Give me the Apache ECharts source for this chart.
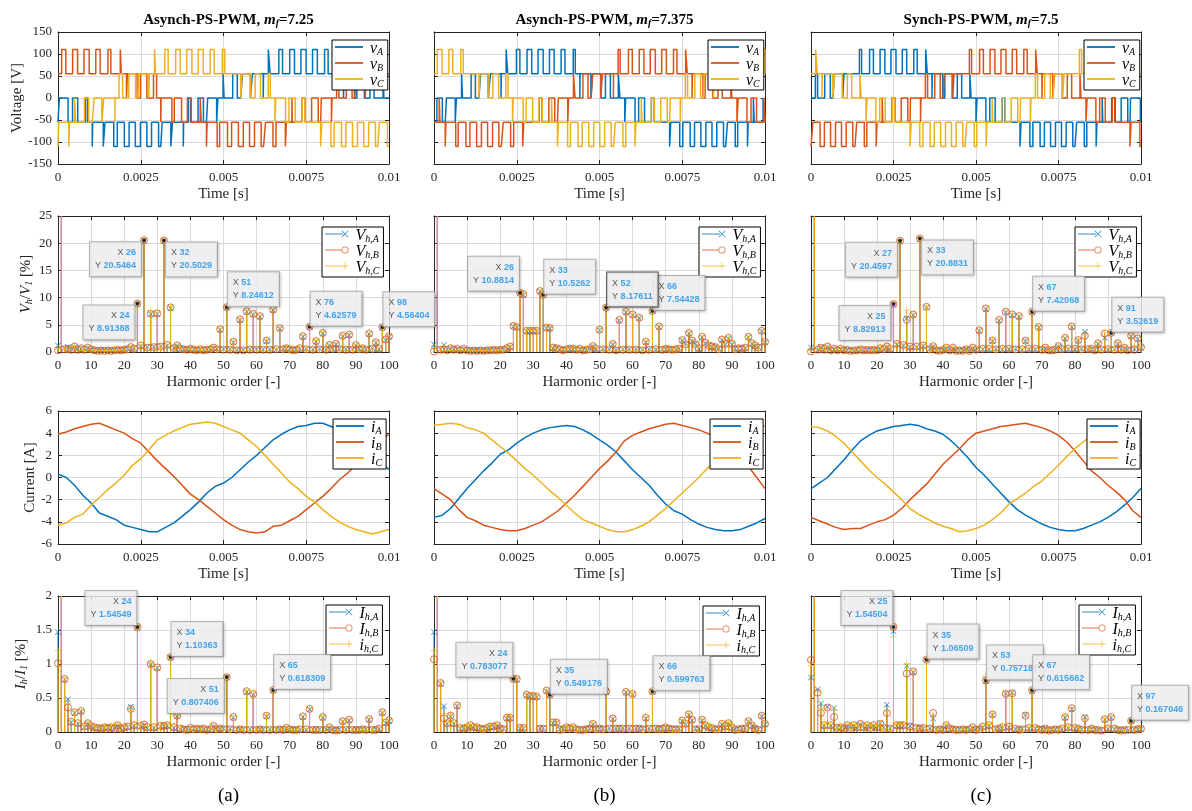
<!DOCTYPE html>
<html><head><meta charset="utf-8">
<script src="https://cdn.jsdelivr.net/npm/echarts@6/dist/echarts.min.js"></script>
<style>html,body{margin:0;padding:0;background:#fff}#c{width:1192px;height:811px}</style>
</head><body><div id="c"></div>
<script>
// ---------------- DATA ----------------
const columnTitles = ['Asynch-PS-PWM, ', 'Asynch-PS-PWM, ', 'Synch-PS-PWM, '];
const mfValues = ['7.25', '7.375', '7.5'];
const panelLetters = ['(a)', '(b)', '(c)'];
const timeTicks = [0, 0.0025, 0.005, 0.0075, 0.01];
const harmTicks = [0, 10, 20, 30, 40, 50, 60, 70, 80, 90, 100];

// PWM carrier interval (ms) per panel and voltage step (V)
const pwmInterval = [0.345, 0.339, 0.3333];
const levelStep = 55;
// local average of each phase voltage over every carrier interval (V), read from pulse duty
const vAvgA_a = [-13,-30,-45,-59,-68,-76,-80,-79,-76,-68,-58,-44,-29,-12,5,22,38,52,64,73,78,80,78,72,63,51,36,20,4];
const vAvgB_a = [75,79,80,76,69,60,47,31,15,-3,-20,-36,-50,-62,-72,-77,-80,-78,-74,-65,-53,-39,-23,-6,11,28,44,57,68];
const vAvgC_a = [-61,-49,-35,-18,-1,17,33,48,60,71,77,80,79,74,67,55,42,26,10,-8,-25,-41,-55,-66,-74,-78,-80,-77,-71];
const vAvgA_b = [-28,-12,5,21,37,52,63,72,78,80,78,74,65,53,40,24,8,-9,-26,-41,-55,-66,-74,-79,-80,-77,-72,-62,-51,-36];
const vAvgB_b = [-51,-62,-72,-77,-80,-79,-74,-66,-55,-42,-26,-9,8,25,40,54,65,74,78,80,78,72,63,52,37,21,5,-12,-28,-44];
const vAvgC_b = [79,74,67,56,43,28,11,-6,-23,-38,-52,-65,-73,-78,-80,-78,-73,-65,-52,-39,-23,-6,11,28,43,56,67,74,79,80];
const vAvgA_c = [11,28,42,55,66,74,79,80,77,72,63,52,37,22,6,-11,-28,-42,-55,-66,-74,-79,-80,-77,-72,-63,-52,-37,-22,-6];
const vAvgB_c = [-74,-79,-80,-77,-72,-63,-52,-38,-22,-5,11,27,43,55,66,74,79,80,77,72,63,52,38,22,5,-11,-27,-43,-55,-66];
const vAvgC_c = [63,52,38,22,6,-11,-28,-42,-55,-67,-74,-78,-80,-77,-72,-63,-52,-38,-22,-6,11,28,42,55,66,74,79,80,77,72];

// voltage harmonics V_h/V_1 [%], h = 0..100
const VA_a = [1.2,100,0.7,0.9,0.5,0.9,0.5,0.6,0.5,0.7,0.4,0.4,0.3,0.3,0.3,0.3,0.3,0.4,0.3,0.4,0.5,0.6,0.8,0.7,8.8,1.0,20.4,0.9,7.0,1.0,7.0,1.1,20.4,1.2,8.1,0.8,1.1,0.5,0.6,0.5,0.5,0.5,0.4,0.4,0.4,0.5,0.4,0.7,0.6,4.1,0.5,8.2,0.5,1.8,0.4,5.9,0.4,7.4,0.5,6.9,0.5,6.5,0.5,2.0,0.5,7.7,0.4,4.3,0.6,0.6,0.6,0.4,0.5,0.6,2.8,0.6,4.6,0.5,1.9,0.6,3.4,0.5,1.2,0.7,1.4,0.6,2.9,0.5,3.1,0.5,1.2,0.6,0.6,0.5,3.3,0.7,1.7,0.5,4.5,2.2,2.8];
const VB_a = [0.3,100,0.5,0.6,0.4,1.0,0.4,0.7,0.4,0.8,0.5,0.3,0.2,0.3,0.2,0.3,0.2,0.3,0.4,0.3,0.4,0.5,0.9,0.6,8.91388,1.2,20.5464,0.8,7.0,0.9,7.1,1.0,20.5029,1.3,8.2,0.7,1.2,0.6,0.5,0.4,0.6,0.4,0.3,0.5,0.3,0.4,0.5,0.8,0.5,4.2,0.4,8.24612,0.4,1.9,0.3,6.0,0.3,7.5,0.4,7.0,0.4,6.6,0.4,2.1,0.4,7.8,0.5,4.4,0.5,0.7,0.5,0.3,0.4,0.7,2.9,0.5,4.62579,0.4,2.0,0.5,3.5,0.4,1.3,0.6,1.5,0.5,3.0,0.4,3.2,0.4,1.3,0.5,0.7,0.4,3.4,0.6,1.8,0.6,4.56404,2.3,2.9];
const VC_a = [0.6,100,0.6,0.5,0.5,1.1,0.3,0.8,0.3,0.9,0.4,0.2,0.3,0.2,0.3,0.2,0.3,0.3,0.5,0.3,0.5,0.4,1.0,0.5,9.0,1.3,20.6,0.7,7.6,0.8,7.3,0.9,20.6,1.4,8.3,0.6,1.3,0.7,0.4,0.5,0.7,0.3,0.4,0.6,0.3,0.3,0.6,0.9,0.4,4.3,0.3,8.3,0.3,2.0,0.4,6.1,0.3,7.6,0.3,7.1,0.3,6.7,0.3,2.2,0.3,7.9,0.6,4.5,0.4,0.8,0.4,0.3,0.3,0.8,3.0,0.4,4.7,0.3,2.1,0.4,3.6,0.3,1.4,0.5,1.6,0.4,3.1,0.3,3.3,0.3,1.4,0.4,0.8,0.3,3.5,0.5,1.9,0.7,4.6,2.4,3.0];
const VA_b = [1.4,100,0.5,1.3,0.4,0.6,0.5,0.5,0.4,0.5,0.4,0.3,0.2,0.3,0.2,0.3,0.2,0.4,0.3,0.4,0.3,0.5,0.6,0.9,4.7,4.5,10.8,10.5,3.8,3.8,3.8,3.8,11.1,10.4,4.4,4.3,0.7,0.8,0.4,0.4,0.4,0.5,0.5,0.5,0.5,0.4,0.3,0.6,1.0,0.5,4.0,0.6,8.1,0.5,1.4,0.4,5.8,0.5,7.3,0.5,6.8,0.5,6.2,0.4,1.8,0.5,7.5,0.4,4.6,0.5,0.5,0.6,0.5,0.4,0.7,2.1,1.5,3.4,2.0,1.5,0.6,2.7,1.6,1.3,0.9,1.0,0.6,2.2,1.4,2.5,1.4,0.6,0.6,0.7,0.7,2.7,1.5,1.1,0.9,3.8,1.8];
const VB_b = [0.1,100,0.4,0.5,0.3,0.7,0.4,0.6,0.3,0.6,0.3,0.2,0.3,0.2,0.3,0.2,0.3,0.3,0.4,0.3,0.4,0.4,0.7,1.0,4.8,4.6,10.8814,10.6,3.9,3.9,3.9,3.9,11.2,10.5262,4.5,4.4,0.8,0.7,0.5,0.3,0.5,0.6,0.6,0.4,0.6,0.3,0.4,0.5,1.1,0.6,4.1,0.5,8.17611,0.4,1.5,0.3,5.9,0.4,7.4,0.4,6.9,0.4,6.3,0.3,1.9,0.4,7.54428,0.5,4.7,0.4,0.6,0.5,0.4,0.5,0.6,2.2,1.4,3.5,2.1,1.4,0.7,2.8,1.7,1.2,1.0,0.9,0.5,2.3,1.5,2.6,1.5,0.5,0.7,0.6,0.8,2.8,1.6,1.2,0.8,3.9,1.9];
const VC_b = [0.8,100,0.3,0.8,0.3,0.8,0.3,0.7,0.2,0.7,0.2,0.3,0.3,0.2,0.3,0.3,0.3,0.2,0.5,0.2,0.5,0.3,0.8,1.1,4.9,4.7,11.0,10.7,4.0,4.0,4.0,4.0,11.3,10.6,4.6,4.5,0.9,0.6,0.6,0.2,0.6,0.7,0.7,0.3,0.7,0.2,0.5,0.4,1.2,0.7,4.2,0.4,8.2,0.3,1.6,0.2,6.0,0.3,7.5,0.3,7.0,0.3,6.4,0.2,2.0,0.3,7.6,0.6,4.8,0.3,0.7,0.4,0.3,0.6,0.5,2.3,1.3,3.6,2.2,1.3,0.8,2.9,1.8,1.1,1.1,0.8,0.4,2.4,1.6,2.7,1.6,0.4,0.8,0.5,0.9,2.9,1.7,1.3,0.7,4.0,2.0];
const VA_c = [0.8,100,0.3,0.9,0.3,0.9,0.4,0.5,0.4,0.5,0.4,0.3,0.3,0.2,0.4,0.4,0.2,0.3,0.4,0.3,0.4,0.6,0.4,0.9,0.5,8.7,1.4,20.3,1.2,6.2,0.9,6.8,0.9,20.7,1.1,8.2,0.6,1.0,0.4,0.3,0.3,0.7,0.4,0.7,0.3,0.2,0.3,0.6,0.3,0.7,0.3,3.9,0.5,7.9,0.5,2.0,0.6,5.8,0.5,7.3,0.5,6.8,0.6,6.5,0.4,2.0,0.5,7.3,0.5,4.5,0.5,0.7,0.4,0.2,0.5,1.0,0.4,2.5,0.5,4.6,0.5,2.1,0.6,3.7,0.4,0.5,0.4,1.5,0.5,2.6,0.4,3.4,0.5,1.5,0.5,0.7,0.4,2.9,0.5,2.4,0.8];
const VB_c = [0.1,100,0.4,0.8,0.4,1.0,0.3,0.6,0.3,0.6,0.3,0.4,0.2,0.3,0.3,0.5,0.3,0.4,0.3,0.4,0.3,0.7,0.5,1.0,0.6,8.82913,1.5,20.4597,1.3,5.9,1.0,6.9,1.0,20.8831,1.2,8.3,0.5,1.1,0.3,0.2,0.4,0.8,0.3,0.8,0.2,0.3,0.2,0.5,0.2,0.8,0.4,4.0,0.6,8.0,0.6,2.1,0.5,5.9,0.6,7.4,0.6,6.9,0.5,6.6,0.5,2.1,0.6,7.42068,0.6,4.6,0.4,0.8,0.3,0.3,0.4,1.1,0.5,2.6,0.6,4.7,0.6,2.2,0.5,3.0,0.5,0.6,0.3,1.6,0.4,3.4,0.5,3.52619,0.4,1.6,0.4,0.8,0.3,3.0,0.4,2.5,0.9];
const VC_c = [0.3,100,0.5,0.7,0.5,1.1,0.2,0.7,0.2,0.7,0.2,0.5,0.1,0.4,0.2,0.6,0.4,0.5,0.2,0.5,0.2,0.8,0.6,1.1,0.7,8.9,1.6,20.5,1.4,7.7,1.1,7.0,1.1,20.9,1.3,8.4,0.4,1.2,0.2,0.1,0.5,0.9,0.2,0.9,0.1,0.4,0.1,0.4,0.1,0.9,0.5,4.1,0.7,8.1,0.7,2.2,0.4,6.0,0.7,7.5,0.7,7.0,0.4,6.7,0.6,2.2,0.7,7.5,0.7,4.7,0.3,0.9,0.2,0.4,0.3,1.2,0.6,2.7,0.7,4.8,0.7,2.3,0.4,3.1,0.6,0.7,0.2,1.7,0.3,3.5,0.6,3.6,0.3,1.7,0.3,0.9,0.2,3.1,1.2,2.6,1.0];

// phase currents [A], one sample every 0.25 ms from 0 to 10 ms
const iA_a = [0.3,0.0,-0.7,-1.6,-2.3,-3.2,-3.5,-3.8,-4.3,-4.5,-4.7,-4.9,-4.9,-4.5,-4.1,-3.5,-2.9,-2.2,-1.4,-0.8,-0.5,0.0,0.7,1.4,2.0,2.7,3.4,3.9,4.3,4.6,4.7,4.9,4.9,4.6,4.3,3.9,3.5,2.9,2.2,1.4,0.7];
const iB_a = [3.9,4.1,4.4,4.6,4.8,4.9,4.6,4.3,4.0,3.5,3.1,2.3,1.5,0.8,0.1,-0.7,-1.5,-2.0,-2.6,-3.2,-3.8,-4.3,-4.7,-4.9,-5.0,-4.9,-4.4,-4.3,-3.9,-3.5,-2.9,-2.3,-1.7,-1.0,-0.2,0.4,1.1,1.9,2.6,3.3,3.9];
const iC_a = [-4.3,-4.1,-3.6,-3.3,-2.5,-1.8,-1.1,-0.5,0.2,1.1,1.7,2.5,3.4,3.8,4.2,4.5,4.8,4.9,5.0,4.9,4.6,4.3,4.0,3.4,2.8,2.0,1.2,0.4,-0.4,-1.0,-1.7,-2.2,-2.9,-3.5,-4.0,-4.4,-4.7,-4.9,-5.1,-4.9,-4.7];
const iA_b = [-3.6,-3.4,-2.8,-1.9,-1.0,-0.2,0.6,1.3,2.1,2.5,3.1,3.6,4.0,4.3,4.5,4.6,4.7,4.6,4.3,3.9,3.4,2.9,2.3,1.5,0.7,0.0,-0.7,-1.6,-2.4,-3.0,-3.3,-3.8,-4.2,-4.5,-4.7,-4.8,-4.8,-4.7,-4.4,-4.1,-3.7];
const iB_b = [-1.0,-1.5,-2.0,-2.9,-3.6,-3.9,-4.3,-4.5,-4.7,-4.8,-4.8,-4.6,-4.3,-4.0,-3.5,-3.0,-2.3,-1.6,-0.8,0.0,0.8,1.5,2.3,3.3,3.8,4.1,4.4,4.6,4.8,4.9,4.7,4.5,4.3,4.0,3.6,3.1,2.5,1.8,1.0,0.0,-1.0];
const iC_b = [4.7,4.8,4.9,4.8,4.5,4.3,4.0,3.4,2.8,2.2,1.5,0.8,0.2,-0.5,-1.2,-1.8,-2.5,-3.2,-3.8,-4.1,-4.4,-4.7,-4.9,-4.9,-4.7,-4.4,-4.0,-3.4,-2.8,-2.1,-1.4,-0.7,0.0,0.8,1.5,2.2,2.8,3.4,3.8,4.3,4.7];
const iA_c = [-1.0,-0.5,0.0,0.8,1.6,2.5,3.3,3.8,4.2,4.4,4.6,4.7,4.8,4.7,4.4,4.2,3.9,3.3,2.6,1.8,0.9,0.2,-0.6,-1.4,-2.2,-2.9,-3.4,-3.8,-4.2,-4.5,-4.7,-4.8,-4.8,-4.6,-4.3,-4.0,-3.6,-3.1,-2.5,-1.8,-1.0];
const iB_c = [-3.6,-3.9,-4.2,-4.5,-4.7,-4.6,-4.6,-4.3,-4.0,-3.8,-3.4,-2.8,-2.0,-1.3,-0.6,0.3,1.2,1.9,2.6,3.4,4.0,4.2,4.4,4.6,4.7,4.8,4.9,4.7,4.5,4.2,3.8,3.2,2.4,1.5,0.6,0.0,-0.7,-1.3,-2.0,-3.0,-3.6];
const iC_c = [4.6,4.5,4.2,3.7,3.1,2.3,1.5,0.7,0.0,-0.6,-1.3,-2.0,-2.8,-3.3,-3.7,-4.1,-4.4,-4.6,-4.9,-4.8,-4.6,-4.3,-3.8,-3.2,-2.4,-1.9,-1.4,-0.8,-0.3,0.4,1.1,1.9,2.6,3.2,3.8,4.2,4.5,4.7,4.9,4.8,4.6];
const currentStep = 0.00025;

// current harmonics I_h/I_1 [%], h = 0..100
const IA_a = [1.47,100,0.77,0.48,0.14,0.28,0.12,0.3,0.07,0.12,0.08,0.06,0.05,0.06,0.06,0.07,0.06,0.06,0.09,0.06,0.06,0.07,0.37,0.09,1.53,0.08,0.1,0.06,0.99,0.06,0.94,0.08,0.08,0.09,1.09,0.06,0.23,0.04,0.05,0.04,0.05,0.05,0.04,0.05,0.04,0.04,0.03,0.08,0.05,0.04,0.05,0.8,0.05,0.21,0.04,0.03,0.04,0.59,0.04,0.55,0.04,0.03,0.04,0.23,0.04,0.61,0.04,0.03,0.04,0.05,0.03,0.04,0.04,0.03,0.22,0.03,0.33,0.04,0.04,0.04,0.21,0.04,0.06,0.04,0.03,0.04,0.15,0.04,0.17,0.04,0.04,0.04,0.03,0.04,0.18,0.04,0.04,0.04,0.28,0.13,0.16];
const IB_a = [1.01,100,0.78,0.36,0.15,0.29,0.13,0.31,0.08,0.13,0.09,0.07,0.06,0.05,0.07,0.06,0.07,0.05,0.1,0.05,0.07,0.08,0.34,0.1,1.54549,0.09,0.11,0.07,1.0,0.07,0.95,0.09,0.09,0.1,1.10363,0.07,0.24,0.05,0.04,0.03,0.06,0.04,0.05,0.04,0.05,0.03,0.04,0.09,0.04,0.05,0.04,0.807406,0.04,0.22,0.03,0.04,0.03,0.6,0.03,0.56,0.03,0.04,0.03,0.24,0.03,0.618309,0.03,0.04,0.03,0.06,0.04,0.03,0.03,0.04,0.23,0.04,0.34,0.03,0.03,0.03,0.22,0.03,0.07,0.03,0.02,0.03,0.16,0.03,0.18,0.03,0.03,0.03,0.04,0.03,0.19,0.03,0.03,0.05,0.29,0.14,0.17];
const IC_a = [1.2,100,0.79,0.42,0.16,0.3,0.14,0.32,0.09,0.14,0.1,0.08,0.07,0.04,0.08,0.05,0.08,0.04,0.11,0.04,0.08,0.09,0.33,0.11,1.55,0.1,0.12,0.08,1.03,0.08,0.96,0.1,0.1,0.11,1.11,0.08,0.25,0.06,0.03,0.02,0.07,0.03,0.06,0.03,0.06,0.02,0.05,0.1,0.03,0.06,0.03,0.81,0.03,0.23,0.02,0.05,0.02,0.61,0.02,0.57,0.02,0.05,0.02,0.25,0.02,0.62,0.02,0.05,0.02,0.07,0.05,0.02,0.02,0.05,0.24,0.05,0.35,0.02,0.02,0.02,0.23,0.02,0.08,0.02,0.01,0.02,0.17,0.02,0.19,0.02,0.02,0.02,0.05,0.02,0.2,0.02,0.02,0.06,0.3,0.15,0.18];
const IA_b = [1.47,100,0.71,0.38,0.12,0.23,0.12,0.38,0.05,0.06,0.06,0.09,0.06,0.06,0.06,0.05,0.05,0.07,0.07,0.09,0.06,0.05,0.2,0.2,0.77,0.77,0.05,0.05,0.54,0.52,0.52,0.51,0.06,0.06,0.6,0.54,0.13,0.13,0.04,0.05,0.06,0.06,0.06,0.05,0.04,0.04,0.05,0.06,0.11,0.05,0.06,0.05,0.59,0.06,0.19,0.06,0.06,0.06,0.58,0.06,0.55,0.06,0.06,0.05,0.2,0.06,0.59,0.06,0.05,0.06,0.06,0.06,0.05,0.05,0.05,0.16,0.11,0.25,0.17,0.05,0.05,0.17,0.09,0.06,0.05,0.05,0.05,0.11,0.07,0.12,0.06,0.04,0.05,0.06,0.06,0.15,0.09,0.06,0.04,0.23,0.11];
const IB_b = [1.07,100,0.72,0.2,0.13,0.24,0.13,0.39,0.06,0.05,0.07,0.1,0.07,0.07,0.05,0.04,0.06,0.08,0.08,0.1,0.05,0.04,0.21,0.21,0.783077,0.78,0.06,0.06,0.55,0.53,0.53,0.52,0.05,0.05,0.61,0.549176,0.14,0.14,0.03,0.04,0.07,0.05,0.07,0.04,0.03,0.03,0.04,0.05,0.12,0.04,0.05,0.04,0.6,0.05,0.2,0.05,0.05,0.05,0.59,0.05,0.56,0.05,0.05,0.04,0.21,0.05,0.599763,0.05,0.04,0.05,0.07,0.05,0.04,0.04,0.04,0.17,0.12,0.26,0.18,0.04,0.04,0.18,0.1,0.07,0.06,0.04,0.04,0.12,0.08,0.13,0.07,0.03,0.04,0.05,0.05,0.16,0.1,0.05,0.03,0.24,0.12];
const IC_b = [1.2,100,0.73,0.27,0.14,0.25,0.14,0.4,0.07,0.04,0.08,0.11,0.08,0.08,0.04,0.03,0.07,0.09,0.09,0.11,0.04,0.03,0.22,0.22,0.79,0.79,0.07,0.07,0.56,0.54,0.54,0.53,0.04,0.04,0.62,0.55,0.15,0.15,0.02,0.03,0.08,0.04,0.08,0.03,0.02,0.02,0.03,0.04,0.13,0.03,0.04,0.03,0.61,0.04,0.21,0.04,0.04,0.04,0.6,0.04,0.57,0.04,0.04,0.03,0.22,0.04,0.61,0.04,0.03,0.04,0.08,0.04,0.03,0.03,0.03,0.18,0.13,0.27,0.19,0.03,0.03,0.19,0.11,0.08,0.07,0.03,0.03,0.13,0.09,0.14,0.08,0.02,0.03,0.04,0.04,0.17,0.11,0.04,0.02,0.25,0.13];
const IA_c = [0.8,100,0.63,0.42,0.09,0.37,0.09,0.35,0.07,0.06,0.06,0.09,0.07,0.09,0.06,0.11,0.06,0.09,0.07,0.09,0.06,0.13,0.07,0.4,0.06,1.48,0.09,0.09,0.09,0.97,0.09,0.88,0.07,0.06,0.05,1.05,0.06,0.2,0.04,0.03,0.04,0.09,0.04,0.05,0.04,0.04,0.03,0.04,0.03,0.06,0.04,0.05,0.07,0.75,0.09,0.25,0.05,0.04,0.06,0.57,0.07,0.58,0.04,0.04,0.05,0.25,0.05,0.6,0.05,0.05,0.04,0.06,0.03,0.04,0.03,0.04,0.04,0.21,0.06,0.33,0.05,0.04,0.04,0.22,0.04,0.04,0.04,0.02,0.03,0.18,0.04,0.21,0.04,0.04,0.03,0.04,0.02,0.16,0.04,0.03,0.04];
const IB_c = [1.06,100,0.58,0.28,0.1,0.36,0.1,0.22,0.06,0.07,0.05,0.1,0.06,0.1,0.07,0.12,0.07,0.1,0.06,0.1,0.07,0.12,0.06,0.28,0.05,1.54504,0.1,0.1,0.1,0.86,0.08,0.89,0.06,0.05,0.06,1.06509,0.05,0.28,0.03,0.04,0.03,0.1,0.05,0.04,0.03,0.03,0.04,0.03,0.04,0.07,0.03,0.04,0.08,0.757187,0.1,0.26,0.04,0.05,0.07,0.56,0.08,0.57,0.05,0.03,0.04,0.24,0.06,0.615662,0.06,0.04,0.03,0.05,0.02,0.03,0.04,0.03,0.05,0.22,0.07,0.35,0.06,0.05,0.03,0.2,0.03,0.05,0.03,0.03,0.02,0.19,0.05,0.22,0.05,0.03,0.02,0.03,0.03,0.167046,0.03,0.04,0.05];
const IC_c = [0.98,100,0.6,0.35,0.11,0.35,0.11,0.33,0.05,0.08,0.04,0.11,0.05,0.11,0.08,0.13,0.08,0.11,0.05,0.11,0.08,0.11,0.05,0.3,0.04,1.4,0.11,0.11,0.11,1.0,0.07,0.9,0.05,0.04,0.07,1.07,0.04,0.22,0.02,0.05,0.02,0.11,0.06,0.03,0.02,0.02,0.05,0.02,0.05,0.08,0.02,0.03,0.09,0.82,0.11,0.27,0.03,0.06,0.08,0.58,0.09,0.56,0.06,0.02,0.03,0.26,0.07,0.62,0.07,0.03,0.02,0.04,0.03,0.02,0.05,0.02,0.06,0.24,0.08,0.36,0.07,0.06,0.02,0.19,0.02,0.06,0.02,0.04,0.01,0.2,0.06,0.23,0.06,0.02,0.03,0.02,0.04,0.17,0.02,0.05,0.06];

// data tips [harmonic, value]
const vTips_a = [[26,20.5464],[32,20.5029],[24,8.91388],[51,8.24612],[76,4.62579],[98,4.56404]];
const vTips_b = [[26,10.8814],[33,10.5262],[66,7.54428],[52,8.17611]];
const vTips_c = [[27,20.4597],[33,20.8831],[25,8.82913],[67,7.42068],[91,3.52619]];
const iTips_a = [[24,1.54549],[34,1.10363],[51,0.807406],[65,0.618309]];
const iTips_b = [[24,0.783077],[35,0.549176],[66,0.599763]];
const iTips_c = [[25,1.54504],[35,1.06509],[53,0.757187],[67,0.615662],[97,0.167046]];

// ---------------- LAYOUT / STYLE ----------------
const vTipPlace = [['ll','lr','ll','ur','ur','ur'],['ul','ur','ur','ur!'],['ll','lr','ll','ur','ur']];
const iTipPlace = [['ul','ur','ll','ur'],['ul','ur','ur'],['ul','ur','ur','ur','ur']];
const COL = ['#0072BD', '#D95319', '#EDB120'];
const SERIF = '"Liberation Serif","Times New Roman",serif';
const SANS = '"Liberation Sans",Arial,sans-serif';
const AX = '#262626';
const gridLeft = [58, 434, 811], gridW = [331, 331, 330];
const gridTop = [32, 216, 411, 596], gridH = [132, 136, 133, 136];
const legendPos = [
  [[332,40],[708,40],[1084,40]],
  [[322,227],[699,227],[1075,227]],
  [[333,419],[710,419],[1087,419]],
  [[326,605],[703,606],[1079,605]]
];
const rowCfg = [
  {kind:'t', ymin:-150, ymax:150, yint:50, yname:'{n|Voltage [V]}', gap:32},
  {kind:'h', ymin:0, ymax:25, yint:5, yname:'{i|V}{s|h}{n|/}{i|V}{s|1}{n| [%]}', gap:24},
  {kind:'t', ymin:-6, ymax:6, yint:2, yname:'{n|Current [A]}', gap:19},
  {kind:'h', ymin:0, ymax:2, yint:0.5, yname:'{i|I}{s|h}{n|/}{i|I}{s|1}{n| [%]}', gap:29}
];
const legendLabels = [
  ['{i|v}{s|A}','{i|v}{s|B}','{i|v}{s|C}'],
  ['{i|V}{s|h,A}','{i|V}{s|h,B}','{i|V}{s|h,C}'],
  ['{i|i}{s|A}','{i|i}{s|B}','{i|i}{s|C}'],
  ['{i|I}{s|h,A}','{i|I}{s|h,B}','{i|i}{s|h,C}']
];
const LINE_ICON = 'path://M0,0 L28,0 L28,1.8 L0,1.8 Z';
const ICONS = [
  'path://M0,3.6 L18,3.6 L18,4.4 L0,4.4 Z M16.5,1.1 L17.1,0.5 L20,3.4 L22.9,0.5 L23.5,1.1 L20.6,4 L23.5,6.9 L22.9,7.5 L20,4.6 L17.1,7.5 L16.5,6.9 L19.4,4 Z',
  'path://M0,3.6 L16.5,3.6 L16.5,4.4 L0,4.4 Z M16.5,4 A3.5,3.5 0 1,1 23.5,4 A3.5,3.5 0 1,1 16.5,4 Z M17.3,4 A2.7,2.7 0 1,0 22.7,4 A2.7,2.7 0 1,0 17.3,4 Z',
  'path://M0,3.6 L16.5,3.6 L16.5,4.4 L0,4.4 Z M19.6,0.5 L20.4,0.5 L20.4,3.6 L23.5,3.6 L23.5,4.4 L20.4,4.4 L20.4,7.5 L19.6,7.5 L19.6,4.4 L16.5,4.4 L16.5,3.6 L19.6,3.6 Z'
];
const MK_X = 'path://M0,0.6 L0.6,0 L3.5,2.9 L6.4,0 L7,0.6 L4.1,3.5 L7,6.4 L6.4,7 L3.5,4.1 L0.6,7 L0,6.4 L2.9,3.5 Z';
const MK_P = 'path://M3.1,0 L3.9,0 L3.9,3.1 L7,3.1 L7,3.9 L3.9,3.9 L3.9,7 L3.1,7 L3.1,3.9 L0,3.9 L0,3.1 L3.1,3.1 Z';

const vAvg = [[vAvgA_a,vAvgB_a,vAvgC_a],[vAvgA_b,vAvgB_b,vAvgC_b],[vAvgA_c,vAvgB_c,vAvgC_c]];
const vHarm = [[VA_a,VB_a,VC_a],[VA_b,VB_b,VC_b],[VA_c,VB_c,VC_c]];
const iCur = [[iA_a,iB_a,iC_a],[iA_b,iB_b,iC_b],[iA_c,iB_c,iC_c]];
const iHarm = [[IA_a,IB_a,IC_a],[IA_b,IB_b,IC_b],[IA_c,IB_c,IC_c]];
const vTips = [vTips_a, vTips_b, vTips_c];
const iTips = [iTips_a, iTips_b, iTips_c];

// turn each interval's average into one pulse between the two neighbouring levels (ms -> s)
function pwmSteps(avg, T) {
  const pts = [];
  let last = 0;
  avg.forEach((v, k) => {
    const s = k * T, c = s + T / 2;
    const low = Math.floor(v / levelStep) * levelStep;
    const w = (v - low) / levelStep * T;
    pts.push([s, low]);
    if (w > 0.012) { pts.push([c - w / 2, low + levelStep]); pts.push([c + w / 2, low]); }
    last = low;
  });
  const out = pts.filter(p => p[0] < 10);
  out.push([10, last]);
  return out.map(p => [p[0] / 1000, p[1]]);
}

const richName = {
  n: {fontFamily: SERIF, fontSize: 15, color: AX, lineHeight: 20, verticalAlign: 'bottom'},
  i: {fontFamily: SERIF, fontSize: 15, fontStyle: 'italic', color: AX, lineHeight: 20, verticalAlign: 'bottom'},
  s: {fontFamily: SERIF, fontSize: 10, fontStyle: 'italic', color: AX, lineHeight: 8, verticalAlign: 'bottom'}
};
const richLegend = {
  i: {fontFamily: SERIF, fontSize: 16, fontStyle: 'italic', color: '#000', lineHeight: 20, verticalAlign: 'bottom'},
  s: {fontFamily: SERIF, fontSize: 10, fontStyle: 'italic', color: '#000', lineHeight: 8, verticalAlign: 'bottom'}
};

const grids = [], xAxes = [], yAxes = [], legends = [], series = [], titles = [];

for (let r = 0; r < 4; r++) {
  for (let c = 0; c < 3; c++) {
    const g = r * 3 + c, rc = rowCfg[r];
    grids.push({left: gridLeft[c], top: gridTop[r], width: gridW[c], height: gridH[r], containLabel: false});
    const isT = rc.kind === 't';
    const xr = isT ? {min: timeTicks[0], max: timeTicks[timeTicks.length-1], interval: timeTicks[1]-timeTicks[0]}
                   : {min: harmTicks[0], max: harmTicks[harmTicks.length-1], interval: harmTicks[1]-harmTicks[0]};
    const lineSt = {color: AX, width: 1};
    xAxes.push(Object.assign({gridIndex: g, type: 'value', position: 'bottom',
      axisLine: {show: true, onZero: false, lineStyle: lineSt},
      axisTick: {show: true, inside: true, length: 4, lineStyle: lineSt},
      axisLabel: {fontFamily: SERIF, fontSize: 13, color: AX, margin: 7,
        formatter: v => isT ? (v === 0 ? '0' : String(parseFloat(v.toFixed(4)))) : String(v)},
      splitLine: {show: true, lineStyle: {color: '#dadada', width: 1}},
      name: isT ? 'Time [s]' : 'Harmonic order [-]', nameLocation: 'middle', nameGap: 23,
      nameTextStyle: {fontFamily: SERIF, fontSize: 15, color: AX}}, xr));
    xAxes.push(Object.assign({gridIndex: g, type: 'value', position: 'top',
      axisLine: {show: true, onZero: false, lineStyle: lineSt},
      axisTick: {show: true, inside: true, length: 4, lineStyle: lineSt},
      axisLabel: {show: false}, splitLine: {show: false}}, xr));
    const yr = {min: rc.ymin, max: rc.ymax, interval: rc.yint};
    yAxes.push(Object.assign({gridIndex: g, type: 'value', position: 'left',
      axisLine: {show: true, onZero: false, lineStyle: lineSt},
      axisTick: {show: true, inside: true, length: 4, lineStyle: lineSt},
      axisLabel: {show: c === 0, fontFamily: SERIF, fontSize: 13, color: AX, margin: 6},
      splitLine: {show: true, lineStyle: {color: '#dadada', width: 1}},
      name: c === 0 ? rc.yname : '', nameLocation: 'middle', nameGap: rc.gap, nameRotate: 90,
      nameTextStyle: {rich: richName}}, yr));
    yAxes.push(Object.assign({gridIndex: g, type: 'value', position: 'right',
      axisLine: {show: true, onZero: false, lineStyle: lineSt},
      axisTick: {show: true, inside: true, length: 4, lineStyle: lineSt},
      axisLabel: {show: false}, splitLine: {show: false}}, yr));

    const names = ['A','B','C'].map(p => 'r' + r + 'c' + c + p);
    const lg = {orient: 'vertical', left: legendPos[r][c][0], top: legendPos[r][c][1],
      itemGap: 0, padding: [1, 4, 1, 3], borderColor: '#000', borderWidth: 1, backgroundColor: '#fff',
      selectedMode: false, z: 4,
      formatter: n => legendLabels[r][names.indexOf(n)],
      textStyle: {rich: richLegend, padding: [0, 0, 0, 2]}};
    if (isT) {
      lg.itemWidth = 28; lg.itemHeight = 12;
      lg.data = names.map((n, p) => ({name: n, icon: LINE_ICON, itemStyle: {color: COL[p], borderWidth: 0}}));
    } else {
      lg.itemWidth = 23.5; lg.itemHeight = 7;
      lg.data = names.map((n, p) => ({name: n, icon: ICONS[p], itemStyle: {color: COL[p], borderWidth: 0}}));
    }
    legends.push(lg);

    if (isT) {
      const arrs = r === 0 ? vAvg[c] : iCur[c];
      arrs.forEach((arr, p) => {
        series.push({type: 'line', name: names[p], xAxisIndex: 2*g, yAxisIndex: 2*g,
          data: r === 0 ? pwmSteps(arr, pwmInterval[c]) : arr.map((v, k) => [k * currentStep, v]),
          step: r === 0 ? 'end' : false, symbol: 'none', showSymbol: false, silent: true,
          lineStyle: {width: 1.5, color: COL[p]}, itemStyle: {color: COL[p]}});
      });
    } else {
      const arrs = r === 1 ? vHarm[c] : iHarm[c];
      arrs.forEach((arr, p) => {
        const d = arr.map((v, h) => [h, v]);
        series.push({type: 'bar', name: names[p] + '_stem', xAxisIndex: 2*g, yAxisIndex: 2*g,
          data: d, barWidth: 1, barGap: '-100%', silent: true, itemStyle: {color: COL[p]}});
        const mk = {type: 'scatter', name: names[p], xAxisIndex: 2*g, yAxisIndex: 2*g, data: d, silent: true};
        if (p === 0) Object.assign(mk, {symbol: MK_X, symbolSize: 6, itemStyle: {color: COL[0]}});
        if (p === 1) Object.assign(mk, {symbol: 'circle', symbolSize: 7, itemStyle: {color: 'rgba(0,0,0,0)', borderColor: COL[1], borderWidth: 1}});
        if (p === 2) Object.assign(mk, {symbol: MK_P, symbolSize: 7, itemStyle: {color: COL[2]}});
        series.push(mk);
      });
      const tips = r === 1 ? vTips[c] : iTips[c];
      const place = r === 1 ? vTipPlace[c] : iTipPlace[c];
      series.push({type: 'scatter', name: 'tips' + g, xAxisIndex: 2*g, yAxisIndex: 2*g, z: 6, clip: false, silent: true,
        symbol: 'circle', symbolSize: 4.5, itemStyle: {color: '#000', borderColor: '#f5e6a0', borderWidth: 0.6},
        data: tips.map((t, k) => {
          const pl = place[k].replace('!', '');
          const dark = place[k].indexOf('!') >= 0;
          const cfg = {
            ll: {align: 'right', verticalAlign: 'top', offset: [-3, 2]},
            lr: {align: 'left', verticalAlign: 'top', offset: [2, 2]},
            ul: {align: 'right', verticalAlign: 'bottom', offset: [-1, -2]},
            ur: {align: 'left', verticalAlign: 'bottom', offset: [1, -1]}
          }[pl];
          return {value: t, label: Object.assign({borderColor: dark ? '#333' : '#a8a8a8'}, cfg)};
        }),
        label: {show: true, position: 'inside',
          formatter: q => '{k|X }{v|' + q.value[0] + '}\n{k|Y }{v|' + q.value[1] + '}',
          backgroundColor: '#f8f8fa', borderWidth: 1, padding: [4, 5, 4, 5],
          shadowColor: 'rgba(0,0,0,0.25)', shadowBlur: 3, shadowOffsetX: 1, shadowOffsetY: 1,
          rich: {
            k: {fontFamily: SANS, fontSize: 9, color: '#333', lineHeight: 13},
            v: {fontFamily: SANS, fontSize: 9, fontWeight: 'bold', color: '#1590e6', lineHeight: 13}
          }}
      });
    }
  }
}

for (let c = 0; c < 3; c++) {
  const cx = gridLeft[c] + gridW[c] / 2;
  titles.push({text: '{b|' + columnTitles[c] + '}{bi|m}{bs|f}{b|=' + mfValues[c] + '}', left: cx, top: 3, textAlign: 'center',
    textStyle: {rich: {
      b: {fontFamily: SERIF, fontSize: 15, fontWeight: 'bold', color: '#000', lineHeight: 20, verticalAlign: 'bottom'},
      bi: {fontFamily: SERIF, fontSize: 15, fontWeight: 'bold', fontStyle: 'italic', color: '#000', lineHeight: 20, verticalAlign: 'bottom'},
      bs: {fontFamily: SERIF, fontSize: 10, fontWeight: 'bold', fontStyle: 'italic', color: '#000', lineHeight: 7, verticalAlign: 'bottom'}
    }}});
  titles.push({text: panelLetters[c], left: cx, top: 782, textAlign: 'center',
    textStyle: {fontFamily: SERIF, fontSize: 19, fontWeight: 'normal', color: '#000'}});
}

const chart = echarts.init(document.getElementById('c'), null, {renderer: 'canvas'});
chart.setOption({
  animation: false, backgroundColor: '#fff',
  textStyle: {fontFamily: SERIF},
  title: titles, grid: grids, xAxis: xAxes, yAxis: yAxes, legend: legends, series: series
});
</script></body></html>
